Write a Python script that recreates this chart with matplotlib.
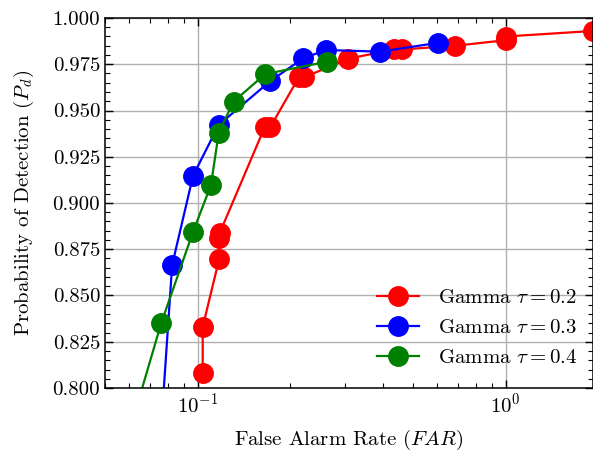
import numpy as np
import matplotlib
matplotlib.use("Agg")
import matplotlib.pyplot as plt
from matplotlib.ticker import AutoMinorLocator

# -----------------------------
# Datos
# -----------------------------
far_02 = [0.1038, 0.1038, 0.1175, 0.1175, 0.118, 0.165, 0.172, 0.213, 0.222,
          0.308, 0.435, 0.46, 0.685, 1.0, 1.0, 1.92]
pd_02 = [0.808, 0.833, 0.870, 0.881, 0.884, 0.941, 0.941, 0.968, 0.968,
         0.978, 0.983, 0.983, 0.985, 0.988, 0.990, 0.993]

far_03 = [0.0762, 0.0826, 0.0966, 0.117, 0.172, 0.220, 0.261, 0.392, 0.602]
pd_03 = [0.780, 0.8665, 0.9148, 0.9422, 0.9659, 0.9782, 0.9827, 0.9818, 0.9866]

far_04 = [0.0634, 0.0761, 0.0966, 0.1104, 0.117, 0.1307, 0.1656, 0.263]
pd_04 = [0.790, 0.835, 0.8845, 0.9097, 0.938, 0.9548, 0.9697, 0.9764]

labels = [r"Gamma $\tau=0.2$", r"Gamma $\tau=0.3$", r"Gamma $\tau=0.4$"]
colores = ["red", "blue", "green"]

# -----------------------------
# Estilo
# -----------------------------
plt.rcParams["font.family"] = "serif"
plt.rcParams["font.serif"] = ["cmr10"]
plt.rcParams["mathtext.fontset"] = "cm"
plt.rcParams["axes.formatter.use_mathtext"] = True
plt.rcParams["axes.unicode_minus"] = False

fig = plt.figure(figsize=(5.93, 4.53), dpi=100)
ax = fig.add_axes([105 / 593, 65 / 453, 488 / 593, 370 / 453])

for x, y, lab, c in zip([far_02, far_03, far_04], [pd_02, pd_03, pd_04], labels, colores):
    ax.plot(x, y, "-o", color=c, label=lab, markersize=14, linewidth=1.6)

ax.set_xscale("log")
ax.set_xlim(0.05, 1.92)
ax.set_ylim(0.8, 1.0)
ax.yaxis.set_minor_locator(AutoMinorLocator(5))
ax.yaxis.set_major_formatter(matplotlib.ticker.FormatStrFormatter("%.3f"))

ax.tick_params(which="both", direction="in", top=True, right=True, labelsize=15)
ax.tick_params(which="major", length=6, width=1)
ax.tick_params(which="minor", length=3.5, width=0.8)
for s in ax.spines.values():
    s.set_linewidth(1.1)

ax.grid(True, which="major", color="#b0b0b0", linewidth=1)

ax.set_xlabel(r"False Alarm Rate ($FAR$)", fontsize=15, labelpad=8)
ax.set_ylabel(r"Probability of Detection ($P_d$)", fontsize=15, labelpad=12)

ax.legend(loc="lower right", bbox_to_anchor=(1.01, 0.0), frameon=False,
          fontsize=15, borderaxespad=0.6, handletextpad=0.9,
          labelspacing=0.55, handlelength=2.0)

plt.savefig("out.png", dpi=100)
